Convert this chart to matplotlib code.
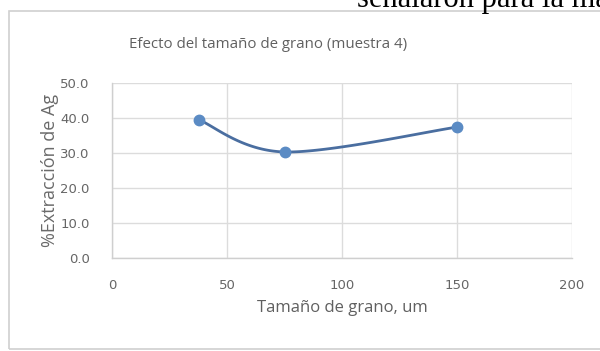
import numpy as np
import matplotlib
matplotlib.use("Agg")
import matplotlib.pyplot as plt
from matplotlib.patches import Rectangle

# Data: grain size (um) vs % silver extraction, sample 4
grain_size = [38, 75, 150]
extraction = [39.4, 30.3, 37.4]

x_ticks = [0, 50, 100, 150, 200]
y_ticks = [0.0, 10.0, 20.0, 30.0, 40.0, 50.0]

title = "Efecto del tamaño de grano (muestra 4)"
x_label = "Tamaño de grano, um"
y_label = "%Extracción de Ag"
page_text = "señalaron para la mayor"


def smooth_curve(xs, ys, n=60):
    """Catmull-Rom style Bezier smoothing between consecutive points."""
    pts = np.column_stack([xs, ys]).astype(float)
    out = []
    for i in range(len(pts) - 1):
        p0 = pts[max(i - 1, 0)]
        p1 = pts[i]
        p2 = pts[i + 1]
        p3 = pts[min(i + 2, len(pts) - 1)]
        c1 = p1 + (p2 - p0) / 6.0
        c2 = p2 - (p3 - p1) / 6.0
        t = np.linspace(0, 1, n)[:, None]
        seg = ((1 - t) ** 3) * p1 + 3 * ((1 - t) ** 2) * t * c1 \
            + 3 * (1 - t) * t ** 2 * c2 + t ** 3 * p2
        out.append(seg if i == 0 else seg[1:])
    curve = np.vstack(out)
    return curve[:, 0], curve[:, 1]


W, H = 600, 351
fig = plt.figure(figsize=(W / 100, H / 100), dpi=100)
fig.patch.set_facecolor("white")

# chart frame
frame = Rectangle((9 / W, 1 - 349 / H), 1.2, (349 - 11) / H,
                  transform=fig.transFigure, fill=False,
                  edgecolor="#d0d0d0", linewidth=1.2, zorder=0)
fig.add_artist(frame)

# running text of the page, cut off at the top edge
fig.text(357 / W, 1 - 7 / H, page_text, family="Liberation Serif",
         fontsize=22, color="black", ha="left", va="baseline")

ax = fig.add_axes([112 / W, 1 - 258 / H, (572 - 112) / W, (258 - 83) / H])
ax.set_xlim(0, 200)
ax.set_ylim(0, 50)
ax.set_xticks(x_ticks)
ax.set_yticks(y_ticks)
ax.set_xticklabels([str(v) for v in x_ticks])
ax.set_yticklabels([f"{v:.1f}" for v in y_ticks])

grid_c = "#dcdcdc"
ax.grid(True, color=grid_c, linewidth=1.0)
ax.set_axisbelow(True)
for s in ["top", "right"]:
    ax.spines[s].set_visible(False)
for s in ["left", "bottom"]:
    ax.spines[s].set_color("#cfcfcf")
    ax.spines[s].set_linewidth(1.0)
ax.tick_params(length=0, labelsize=9.5, labelcolor="#666666")
ax.tick_params(axis="y", pad=16)
ax.tick_params(axis="x", pad=15)
for lab in ax.get_xticklabels() + ax.get_yticklabels():
    lab.set_family("DejaVu Sans")

sx, sy = smooth_curve(grain_size, extraction)
ax.plot(sx, sy, color="#4a6ea0", linewidth=2.0, solid_capstyle="round",
        zorder=3)
ax.plot(grain_size, extraction, linestyle="none", marker="o",
        markersize=7.5, color="#5b8bc4", markeredgecolor="#5b8bc4", zorder=4)

ax.set_xlabel(x_label, family="Open Sans", fontsize=12, color="#606060",
              labelpad=6)
ax.set_ylabel(y_label, family="Open Sans", fontsize=13, color="#6a6a6a",
              labelpad=1)

fig.text(268 / W, 1 - 45 / H, title, family="Open Sans", fontsize=10.8,
         color="#606060", ha="center", va="center")

fig.savefig("out.png", dpi=100, facecolor="white")
